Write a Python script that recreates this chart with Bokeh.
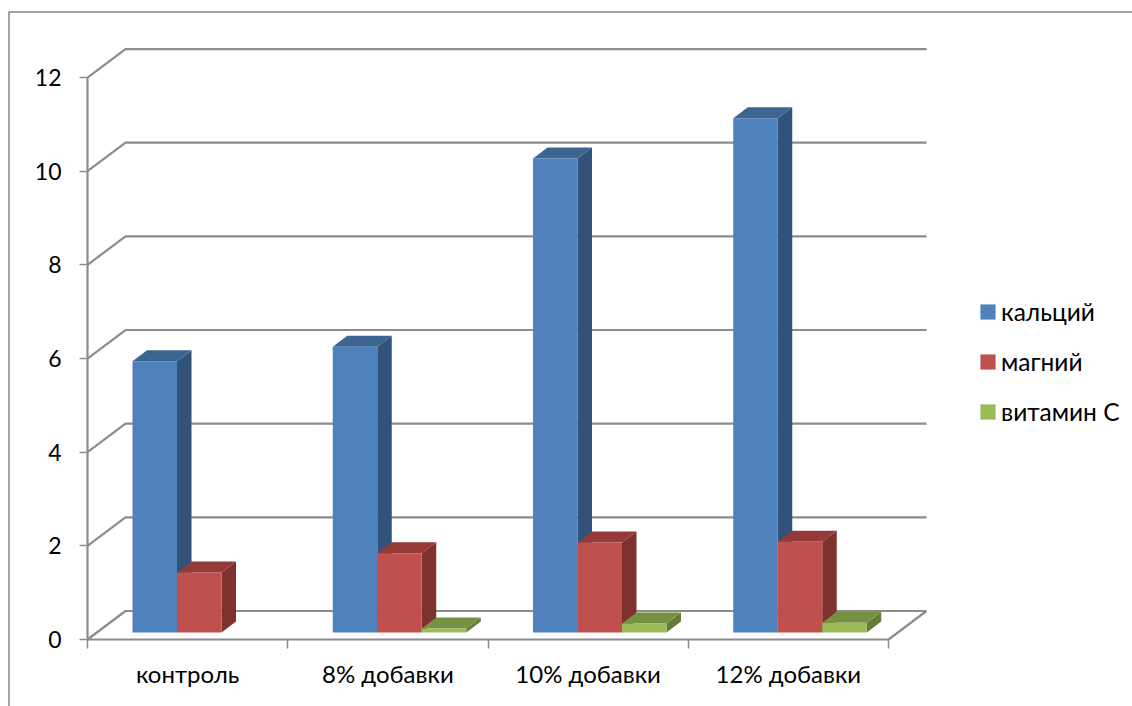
from bokeh.embed import file_html
from bokeh.models import FixedTicker, Legend, LegendItem, LinearAxis, Range1d
from bokeh.plotting import figure
from bokeh.resources import INLINE

# Chart values
categories = ["контроль", "8% добавки", "10% добавки", "12% добавки"]
calcium = [5.79, 6.10, 10.12, 10.98]
magnesium = [1.28, 1.69, 1.92, 1.94]
vitamin_c = [0.0, 0.085, 0.19, 0.21]
y_ticks = [0, 2, 4, 6, 8, 10, 12]

series = [
    ("кальций", calcium, "#4F81BD", "#31527B", "#3D6592"),
    ("магний", magnesium, "#C0504D", "#7D3230", "#953A38"),
    ("витамин С", vitamin_c, "#9BBB59", "#667B3A", "#769142"),
]

# Page and scale setup: one category is 200.25 px, one value unit 46.83 px
WIDTH, HEIGHT = 1132, 706
PX_X, PX_Y = 200.25, 46.83
ORIGIN_X, ORIGIN_Y = 87, 639
FONT = "Lato"
GRID = "#8C8C8C"

# Oblique projection of the chart box and of each column
BOX_DX, BOX_DY = 38 / PX_X, 28.5 / PX_Y
BAR_DX, BAR_DY = 14.5 / PX_X, 11 / PX_Y
BAR_W = 2 / 9
BAR_START = 45 / PX_X
BAR_BASE = 7 / PX_Y

x_start, x_end = -ORIGIN_X / PX_X, (WIDTH - ORIGIN_X) / PX_X
y_start, y_end = -(HEIGHT - ORIGIN_Y) / PX_Y, ORIGIN_Y / PX_Y

p = figure(
    width=WIDTH, height=HEIGHT, output_backend="svg", toolbar_location=None,
    x_axis_location=None, y_axis_location=None, min_border=0,
    x_range=Range1d(x_start, x_end), y_range=Range1d(y_start, y_end),
    outline_line_color=None, background_fill_color="white",
)
p.grid.visible = False

# Outer chart border: left and top edges, running off the page
border_x = x_start + 8.5 / PX_X
border_y = y_end - 11.5 / PX_Y
p.line([border_x, border_x, x_end], [y_start, border_y, border_y],
       line_color="#868686", line_width=1.5)

# Gridlines on the side and back walls, and the floor edge
n = len(categories)
p.multi_line(
    [[0, BOX_DX, n + BOX_DX] for _ in y_ticks],
    [[t, t + BOX_DY, t + BOX_DY] for t in y_ticks],
    line_color=GRID, line_width=2.2,
)
p.line([n, n + BOX_DX], [0, BOX_DY], line_color=GRID, line_width=2.2)

# Columns: side and top faces first, then the front face
legend_items = []
for k, (name, values, front, side, top) in enumerate(series):
    lefts = [i + BAR_START + k * BAR_W for i in range(n)]
    rights = [x + BAR_W for x in lefts]
    base = BAR_BASE
    tops = [v + base for v in values]
    show = [i for i, v in enumerate(values) if v > 0]

    p.patches(
        [[rights[i], rights[i] + BAR_DX, rights[i] + BAR_DX, rights[i]] for i in show],
        [[base, base + BAR_DY, tops[i] + BAR_DY, tops[i]] for i in show],
        fill_color=side, line_color=None,
    )
    p.patches(
        [[lefts[i], lefts[i] + BAR_DX, rights[i] + BAR_DX, rights[i]] for i in show],
        [[tops[i], tops[i] + BAR_DY, tops[i] + BAR_DY, tops[i]] for i in show],
        fill_color=top, line_color=None,
    )
    bars = p.quad(
        left=[lefts[i] for i in show], right=[rights[i] for i in show],
        bottom=[base] * len(show), top=[tops[i] for i in show],
        fill_color=front, line_color=None,
    )
    legend_items.append(LegendItem(label=name, renderers=[bars]))

# Value axis
y_axis = LinearAxis(
    fixed_location=0, bounds=(0, 12), ticker=FixedTicker(ticks=y_ticks),
    axis_line_color=GRID, axis_line_width=2.2,
    major_tick_line_color=GRID, major_tick_line_width=1.5,
    major_tick_out=8, major_tick_in=0, minor_tick_line_color=None,
    major_label_text_font=FONT, major_label_text_font_size="23px",
    major_label_text_color="#000000", major_label_standoff=18,
)
p.add_layout(y_axis, "left")

# Category axis: ticks at the category edges, labels at their centres
x_axis = LinearAxis(
    fixed_location=0, bounds=(0, n),
    ticker=FixedTicker(ticks=[i + 0.5 for i in range(n)], minor_ticks=list(range(n + 1))),
    major_label_overrides={i + 0.5: c for i, c in enumerate(categories)},
    axis_line_color=GRID, axis_line_width=2.2,
    major_tick_line_color=None, major_tick_in=0, major_tick_out=0,
    minor_tick_line_color=GRID, minor_tick_line_width=1.5,
    minor_tick_out=9, minor_tick_in=0,
    major_label_text_font=FONT, major_label_text_font_size="24px",
    major_label_text_color="#000000", major_label_standoff=10,
)
p.add_layout(x_axis, "below")

# Legend to the right of the chart box
legend = Legend(
    items=legend_items, location=(978, HEIGHT - 426), orientation="vertical",
    background_fill_alpha=0, border_line_color=None,
    glyph_width=19, glyph_height=19, label_standoff=4,
    label_text_font=FONT, label_text_font_size="24.5px", label_text_color="#000000",
    label_height=15, spacing=21, padding=8, margin=0,
)
p.add_layout(legend, "center")

open("out.html", "w").write(file_html(p, INLINE))
